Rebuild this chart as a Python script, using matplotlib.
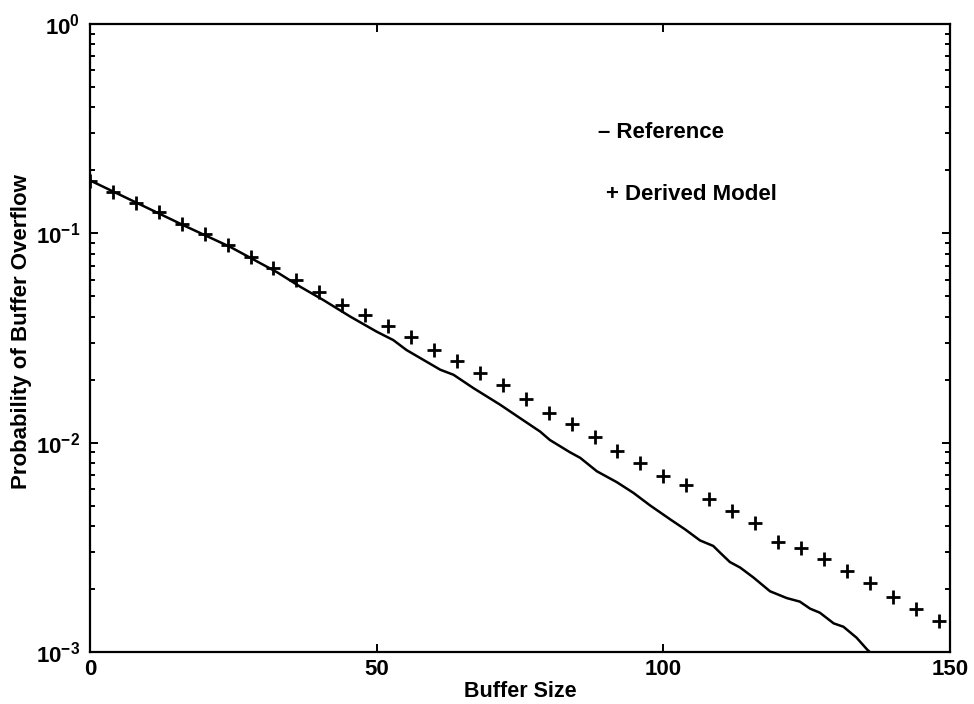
import matplotlib
matplotlib.use('Agg')
import numpy as np
import matplotlib.pyplot as plt
from matplotlib.ticker import FixedLocator, FixedFormatter, LogLocator, NullFormatter

plt.rcParams['font.family'] = ['Liberation Sans', 'DejaVu Sans']
plt.rcParams['font.weight'] = 'bold'
plt.rcParams['mathtext.fontset'] = 'custom'
plt.rcParams['mathtext.rm'] = 'Liberation Sans:bold'
plt.rcParams['mathtext.it'] = 'Liberation Sans:bold'
plt.rcParams['mathtext.bf'] = 'Liberation Sans:bold'

# simulated overflow probability (solid curve)
ref_size = [0, 16.7, 24.5, 32.7, 36.7, 40.7, 45.4, 50.0, 52.9, 55.2, 61.1,
            63.4, 66.9, 71.5, 75.0, 78.5, 80.2, 83.7, 85.5, 88.4, 91.9, 94.8,
            97.7, 101.2, 103.8, 106.4, 108.7, 109.9, 111.6, 113.4, 115.7, 118.6,
            121.5, 123.8, 125.6, 127.3, 129.7, 131.4, 133.7, 135.5, 136.0]
ref_prob = [0.179, 0.108, 0.086, 0.065, 0.0555, 0.048, 0.040, 0.0339,
            0.0309, 0.0277, 0.0223, 0.0211, 0.0182, 0.0152, 0.0131, 0.0113,
            0.0103, 0.0090, 0.00846, 0.00730, 0.00647, 0.00575, 0.00501, 0.0043,
            0.00385, 0.00341, 0.00321, 0.00298, 0.00269, 0.00253, 0.00227,
            0.00195, 0.00181, 0.00174, 0.00161, 0.00154, 0.00137, 0.00132,
            0.00117, 0.00103, 0.00100]

# derived model evaluated every 4 cells
model_size = list(range(0, 149, 4))
model_prob = [0.177, 0.157, 0.140, 0.126, 0.111, 0.0997, 0.0877, 0.0771, 0.0684,
              0.0597, 0.0522, 0.0457, 0.0407, 0.0361, 0.0319, 0.0277, 0.0246,
              0.0215, 0.0189, 0.0161, 0.0138, 0.0123, 0.0106, 0.00916, 0.0080,
              0.00692, 0.00627, 0.0054, 0.00474, 0.00411, 0.00335, 0.00315,
              0.00278, 0.00245, 0.00214, 0.00184, 0.00160, 0.00140]

x_ticks = [0, 50, 100, 150]
x_labels = ['0', '50', '100', '150']
y_ticks = [1e-3, 1e-2, 1e-1, 1e0]
y_labels = [r'$\mathrm{10^{-3}}$', r'$\mathrm{10^{-2}}$',
            r'$\mathrm{10^{-1}}$', r'$\mathrm{10^{0}}$']

fig = plt.figure(figsize=(9.74, 7.04), dpi=100)
ax = fig.add_axes([0.0924, 0.0739, 0.8830, 0.8920])

ax.plot(ref_size, ref_prob, color='black', linewidth=1.8)
ax.plot(model_size, model_prob, linestyle='none', marker='+', color='black',
        markersize=10, markeredgewidth=2.0)

ax.set_yscale('log')
ax.set_xlim(0, 150)
ax.set_ylim(1e-3, 1e0)

ax.xaxis.set_major_locator(FixedLocator(x_ticks))
ax.xaxis.set_major_formatter(FixedFormatter(x_labels))
ax.yaxis.set_major_locator(FixedLocator(y_ticks))
ax.yaxis.set_major_formatter(FixedFormatter(y_labels))
ax.yaxis.set_minor_locator(LogLocator(base=10, subs=np.arange(2, 10)))
ax.yaxis.set_minor_formatter(NullFormatter())

for s in ax.spines.values():
    s.set_linewidth(1.6)
ax.tick_params(which='both', direction='in', top=True, right=True, width=1.4)
ax.tick_params(which='major', length=6, labelsize=16)
ax.tick_params(which='minor', length=3.5)
ax.tick_params(axis='x', pad=5)
ax.tick_params(axis='y', pad=7)

ax.set_xlabel('Buffer Size', fontsize=15.5, fontweight='bold', labelpad=1)
ax.set_ylabel('Probability of Buffer Overflow', fontsize=16,
              fontweight='bold')
ax.yaxis.set_label_coords(-0.068, 0.51)

ax.text(0.591, 0.828, '\u2013 Reference', transform=ax.transAxes,
        ha='left', va='center', fontsize=16, fontweight='bold')
ax.text(0.600, 0.729, '+ Derived Model', transform=ax.transAxes,
        ha='left', va='center', fontsize=16, fontweight='bold')

fig.savefig('out.png', dpi=100)
